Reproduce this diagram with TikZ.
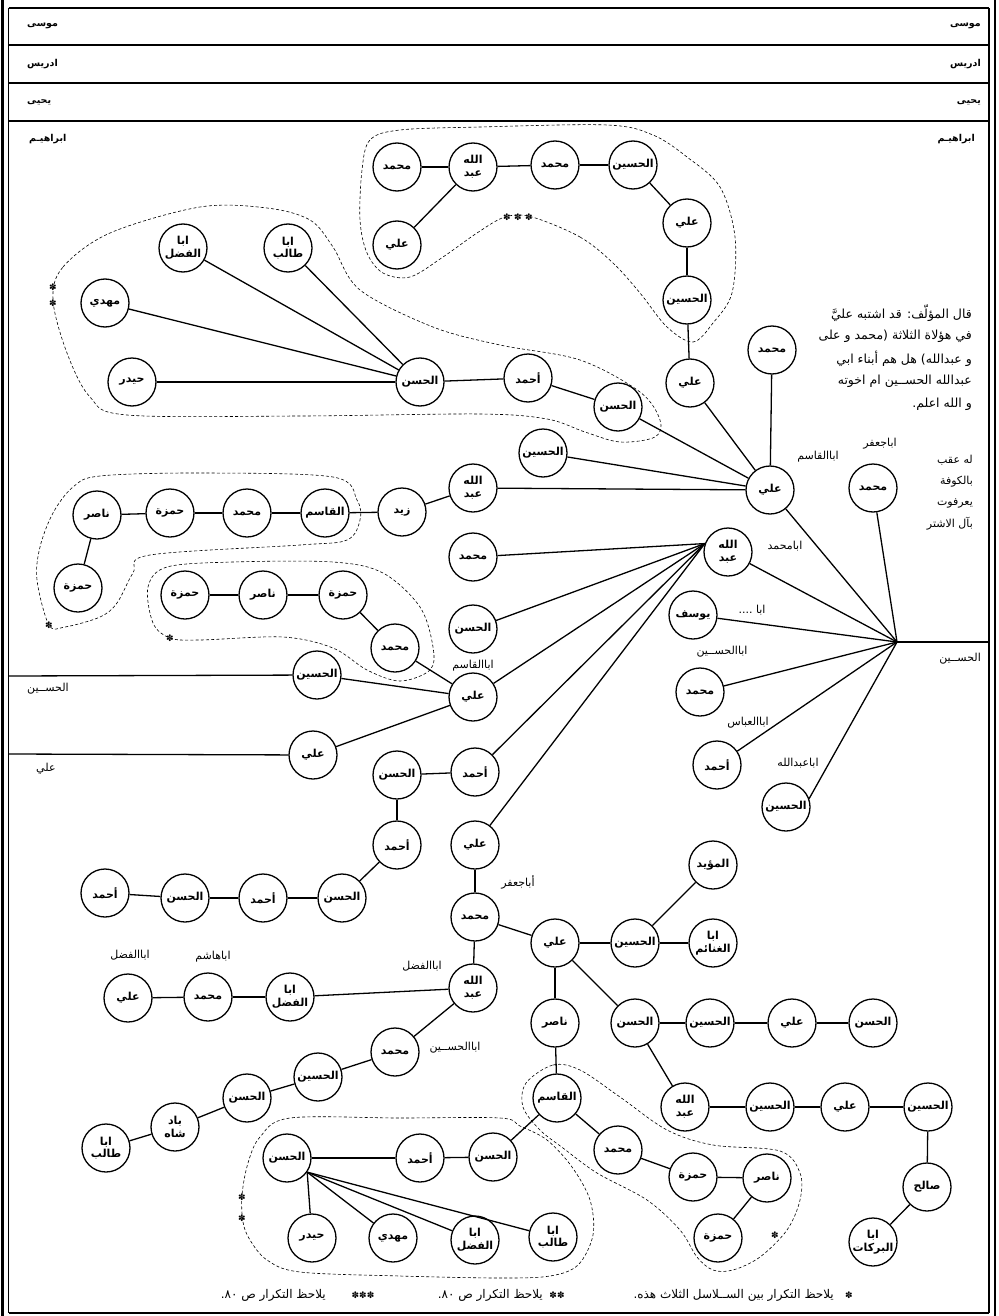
\documentclass[tikz,border=0pt]{standalone}
\usepackage{fontspec}
\newfontfamily\arfont[Script=Arabic]{DejaVu Sans}
\newfontfamily\symfont{DejaVu Sans}
\TeXXeTstate=1
\newcommand{\AR}[1]{\beginR #1\endR}
\tikzset{
  person/.style={circle, draw, line width=1.3pt, minimum size=48pt, inner sep=0pt,
    font=\arfont\bfseries\fontsize{11}{12.5}\selectfont, align=center},
  lbl/.style={font=\arfont\fontsize{11}{12}\selectfont, inner sep=0pt},
  rowl/.style={font=\arfont\bfseries\fontsize{9.5}{11}\selectfont, inner sep=0pt},
  note/.style={font=\arfont\fontsize{12.5}{14}\selectfont, inner sep=0pt, anchor=east},
  fnote/.style={font=\arfont\fontsize{12}{14}\selectfont, inner sep=0pt, anchor=east},
  link/.style={line width=1.3pt},
  dashloop/.style={line width=0.6pt, dash pattern=on 3pt off 2.2pt},
  star/.style={font=\symfont\fontsize{9}{9}\selectfont, inner sep=0pt},
  framel/.style={line width=1.1pt},
}
\begin{document}
\begin{tikzpicture}[x=1pt,y=-1pt]
\useasboundingbox (0,0) rectangle (998,1316);
% frame
\draw[line width=2.2pt] (2.5,0) -- (2.5,1316);
\draw[framel] (8.5,8) -- (8.5,1313);
\draw[framel] (989,8) -- (989,1313);
\draw[line width=1.6pt] (995,0) -- (995,1316);
\foreach \yy in {8,45,83,121,1313} \draw[framel] (8.5,\yy) -- (989,\yy);
% row labels
\node[rowl, anchor=west] (rl1) at (27,26) {\AR{موسى}};
\node[rowl, anchor=east] (rr1) at (981,26) {\AR{موسى}};
\node[rowl, anchor=west] (rl2) at (27,64) {\AR{ادريس}};
\node[rowl, anchor=east] (rr2) at (981,64) {\AR{ادريس}};
\node[rowl, anchor=west] (rl3) at (27,102) {\AR{يحيى}};
\node[rowl, anchor=east] (rr3) at (981,102) {\AR{يحيى}};
\node[rowl, anchor=west] (rl4) at (29,139) {\AR{ابراهيـم}};
\node[rowl, anchor=east] (rr4) at (975,139) {\AR{ابراهيـم}};

% ---------- dashed loops ----------
\draw[dashloop] plot[smooth cycle, tension=0.55] coordinates {(532,217) (580,237) (613,263) (640,293) (667,327) (693,342) (713,323) (732,293) (735,237) (720,187) (687,157) (653,135) (607,125) (480,127) (400,130) (370,140) (362,170) (360,220) (367,253) (383,273) (410,277) (443,257) (477,233) (505,217)};
\draw[dashloop] plot[smooth cycle, tension=0.55] coordinates {(53,300) (63,267) (110,233) (200,207) (267,208) (310,220) (333,247) (360,290) (433,327) (500,345) (580,360) (640,392) (660,420) (655,437) (620,442) (585,432) (547,419) (480,414) (300,416) (127,415) (90,397) (67,353)};
\draw[dashloop] plot[smooth cycle, tension=0.55] coordinates {(49,625) (37,580) (40,547) (53,513) (73,487) (100,476) (200,473) (333,477) (357,500) (360,520) (347,540) (300,545) (150,555) (133,573) (117,603) (100,617) (65,627)};
\draw[dashloop] plot[smooth cycle, tension=0.55] coordinates {(170,638) (153,623) (148,587) (167,567) (233,562) (333,562) (383,573) (420,607) (433,647) (430,670) (400,681) (367,670) (333,648) (283,637) (200,640)};
\draw[dashloop] plot[smooth cycle, tension=0.55] coordinates {(290,1118) (260,1137) (248,1163) (242,1195) (243,1222) (250,1240) (267,1260) (300,1272) (400,1276) (500,1278) (550,1276) (578,1265) (593,1235) (590,1200) (572,1167) (547,1140) (520,1126) (500,1118) (400,1118)};
\draw[dashloop] plot[smooth cycle, tension=0.55] coordinates {(526,1083) (553,1065) (580,1070) (620,1097) (667,1130) (713,1145) (780,1151) (800,1173) (800,1200) (787,1230) (760,1257) (733,1270) (713,1270) (697,1257) (680,1230) (647,1200) (597,1173) (563,1148) (540,1130) (523,1107)};
% stars on loops
\node[star] (s1) at (507,217) {✽};
\node[star] (s2) at (518,217) {✽};
\node[star] (s3) at (529,217) {✽};
\node[star] (s4) at (53,287) {✽};
\node[star] (s5) at (53,303) {✽};
\node[star] (s6) at (49,625) {✽};
\node[star] (s7) at (170,638) {✽};
\node[star] (s8) at (242,1197) {✽};
\node[star] (s9) at (242,1218) {✽};
\node[star] (s10) at (775,1235) {✽};

% ---------- nodes ----------
\node[person] (t1) at (397,167) {\AR{محمد}};
\node[person] (t2) at (473,167) {\AR{الله}\\\AR{عبد}};
\node[person] (t3) at (397,245) {\AR{علي}};
\node[person] (t4) at (555,165) {\AR{محمد}};
\node[person] (t5) at (633,165) {\AR{الحسين}};
\node[person] (t6) at (687,223) {\AR{علي}};
\node[person] (t7) at (687,300) {\AR{الحسين}};
\node[person] (t8) at (690,383) {\AR{علي}};
\node[person] (l1) at (183,248) {\AR{ابا}\\\AR{الفضل}};
\node[person] (l2) at (288,248) {\AR{ابا}\\\AR{طالب}};
\node[person] (l3) at (105,303) {\AR{مهدي}};
\node[person] (l4) at (132,382) {\AR{حيدر}};
\node[person] (l5) at (420,382) {\AR{الحسن}};
\node[person] (l6) at (528,378) {\AR{أحمد}};
\node[person] (l7) at (618,407) {\AR{الحسن}};
\node[person] (r1) at (772,350) {\AR{محمد}};
\node[person] (a1) at (770,490) {\AR{علي}};
\node[person] (a2) at (543,453) {\AR{الحسين}};
\node[person] (a3) at (873,488) {\AR{محمد}};
\node[person] (z1) at (473,488) {\AR{الله}\\\AR{عبد}};
\node[person] (z2) at (402,512) {\AR{زيد}};
\node[person] (z3) at (325,513) {\AR{القاسم}};
\node[person] (z4) at (247,513) {\AR{محمد}};
\node[person] (z5) at (170,513) {\AR{حمزة}};
\node[person] (z6) at (97,515) {\AR{ناصر}};
\node[person] (z7) at (78,588) {\AR{حمزة}};
\node[person] (b1) at (728,552) {\AR{الله}\\\AR{عبد}};
\node[person] (b2) at (693,615) {\AR{يوسف}};
\node[person] (b3) at (700,692) {\AR{محمد}};
\node[person] (b4) at (717,765) {\AR{أحمد}};
\node[person] (b5) at (786,807) {\AR{الحسين}};
\node[person] (c1) at (473,557) {\AR{محمد}};
\node[person] (c2) at (473,629) {\AR{الحسن}};
\node[person] (c3) at (473,697) {\AR{علي}};
\node[person] (c4) at (395,648) {\AR{محمد}};
\node[person] (c5) at (343,595) {\AR{حمزة}};
\node[person] (c6) at (263,595) {\AR{ناصر}};
\node[person] (c7) at (185,595) {\AR{حمزة}};
\node[person] (c8) at (317,675) {\AR{الحسين}};
\node[person] (c9) at (313,755) {\AR{علي}};
\node[person] (d1) at (475,772) {\AR{أحمد}};
\node[person] (d2) at (397,775) {\AR{الحسن}};
\node[person] (d3) at (397,845) {\AR{أحمد}};
\node[person] (d4) at (342,898) {\AR{الحسن}};
\node[person] (d5) at (263,898) {\AR{أحمد}};
\node[person] (d6) at (185,898) {\AR{الحسن}};
\node[person] (d7) at (105,893) {\AR{أحمد}};
\node[person] (e1) at (475,845) {\AR{علي}};
\node[person] (e2) at (475,917) {\AR{محمد}};
\node[person] (e3) at (473,988) {\AR{الله}\\\AR{عبد}};
\node[person] (e4) at (290,997) {\AR{ابا}\\\AR{الفضل}};
\node[person] (e5) at (208,997) {\AR{محمد}};
\node[person] (e6) at (128,998) {\AR{علي}};
\node[person] (f1) at (555,943) {\AR{علي}};
\node[person] (f2) at (635,943) {\AR{الحسين}};
\node[person] (f3) at (713,865) {\AR{المؤيد}};
\node[person] (f4) at (713,943) {\AR{ابا}\\\AR{الغنائم}};
\node[person] (f5) at (555,1023) {\AR{ناصر}};
\node[person] (f6) at (635,1023) {\AR{الحسن}};
\node[person] (f7) at (710,1023) {\AR{الحسين}};
\node[person] (f8) at (792,1023) {\AR{علي}};
\node[person] (f9) at (873,1023) {\AR{الحسن}};
\node[person] (g1) at (685,1107) {\AR{الله}\\\AR{عبد}};
\node[person] (g2) at (770,1107) {\AR{الحسين}};
\node[person] (g3) at (845,1107) {\AR{علي}};
\node[person] (g4) at (928,1107) {\AR{الحسين}};
\node[person] (g5) at (927,1187) {\AR{صالح}};
\node[person] (g6) at (873,1242) {\AR{ابا}\\\AR{البركات}};
\node[person] (h1) at (557,1098) {\AR{القاسم}};
\node[person] (h2) at (493,1157) {\AR{الحسن}};
\node[person] (h3) at (420,1158) {\AR{أحمد}};
\node[person] (h4) at (287,1158) {\AR{الحسن}};
\node[person] (h5) at (312,1238) {\AR{حيدر}};
\node[person] (h6) at (393,1238) {\AR{مهدي}};
\node[person] (h7) at (475,1240) {\AR{ابا}\\\AR{الفضل}};
\node[person] (h8) at (553,1237) {\AR{ابا}\\\AR{طالب}};
\node[person] (h9) at (618,1150) {\AR{محمد}};
\node[person] (h10) at (693,1177) {\AR{حمزة}};
\node[person] (h11) at (767,1178) {\AR{ناصر}};
\node[person] (h12) at (718,1238) {\AR{حمزة}};
\node[person] (k1) at (395,1052) {\AR{محمد}};
\node[person] (k2) at (318,1077) {\AR{الحسين}};
\node[person] (k3) at (247,1098) {\AR{الحسن}};
\node[person] (k4) at (175,1127) {\AR{باد}\\\AR{شاه}};
\node[person] (k5) at (106,1148) {\AR{ابا}\\\AR{طالب}};

\coordinate (hub) at (897,642);
\coordinate (hubR) at (989,642);
\coordinate (lh) at (8.5,676);
\coordinate (la) at (8.5,754);

% ---------- links ----------
\draw[link] (t1) -- (t2); \draw[link] (t2) -- (t4); \draw[link] (t4) -- (t5);
\draw[link] (t5) -- (t6); \draw[link] (t6) -- (t7); \draw[link] (t7) -- (t8);
\draw[link] (t8) -- (a1); \draw[link] (t2) -- (t3);
\draw[link] (l5) -- (l1); \draw[link] (l5) -- (l2); \draw[link] (l5) -- (l3);
\draw[link] (l5) -- (l4); \draw[link] (l5) -- (l6); \draw[link] (l6) -- (l7);
\draw[link] (l7) -- (a1);
\draw[link] (r1) -- (a1); \draw[link] (a2) -- (a1); \draw[link] (z1) -- (a1);
\draw[link] (a1) -- (hub); \draw[link] (a3) -- (hub); \draw[link] (b1) -- (hub);
\draw[link] (b2) -- (hub); \draw[link] (b3) -- (hub); \draw[link] (b4) -- (hub);
\draw[link] (b5.20) -- (hub); \draw[link] (hub) -- (hubR);
\draw[link] (z1) -- (z2); \draw[link] (z2) -- (z3); \draw[link] (z3) -- (z4);
\draw[link] (z4) -- (z5); \draw[link] (z5) -- (z6); \draw[link] (z6) -- (z7);
\draw[link] (b1.160) -- (c1); \draw[link] (b1.160) -- (c2); \draw[link] (b1.160) -- (c3);
\draw[link] (b1.160) -- (d1); \draw[link] (b1.160) -- (e1);
\draw[link] (c3) -- (c4); \draw[link] (c4) -- (c5); \draw[link] (c5) -- (c6);
\draw[link] (c6) -- (c7); \draw[link] (c3) -- (c8); \draw[link] (c3) -- (c9);
\draw[link] (lh) -- (c8); \draw[link] (la) -- (c9);
\draw[link] (d1) -- (d2); \draw[link] (d2) -- (d3); \draw[link] (d3) -- (d4);
\draw[link] (d4) -- (d5); \draw[link] (d5) -- (d6); \draw[link] (d6) -- (d7);
\draw[link] (e1) -- (e2); \draw[link] (e2) -- (e3); \draw[link] (e3) -- (e4);
\draw[link] (e4) -- (e5); \draw[link] (e5) -- (e6);
\draw[link] (e2) -- (f1); \draw[link] (f1) -- (f2); \draw[link] (f2) -- (f3);
\draw[link] (f2) -- (f4); \draw[link] (f1) -- (f5); \draw[link] (f1) -- (f6);
\draw[link] (f6) -- (f7); \draw[link] (f7) -- (f8); \draw[link] (f8) -- (f9);
\draw[link] (f5) -- (h1); \draw[link] (f6) -- (g1); \draw[link] (g1) -- (g2);
\draw[link] (g2) -- (g3); \draw[link] (g3) -- (g4); \draw[link] (g4) -- (g5);
\draw[link] (g5) -- (g6);
\draw[link] (h1) -- (h2); \draw[link] (h2) -- (h3); \draw[link] (h3) -- (h4);
\draw[link] (h4.-35) -- (h5); \draw[link] (h4.-35) -- (h6);
\draw[link] (h4.-35) -- (h7); \draw[link] (h4.-35) -- (h8);
\draw[link] (h1) -- (h9); \draw[link] (h9) -- (h10); \draw[link] (h10) -- (h11);
\draw[link] (h11) -- (h12);
\draw[link] (e3) -- (k1); \draw[link] (k1) -- (k2); \draw[link] (k2) -- (k3);
\draw[link] (k3) -- (k4); \draw[link] (k4) -- (k5);

% ---------- labels ----------
\node[lbl] (q1) at (818,457) {\AR{اباالقاسم}};
\node[lbl] (q2) at (880,444) {\AR{اباجعفر}};
\node[lbl] (q3) at (785,546) {\AR{ابامحمد}};
\node[lbl] (q4) at (752,610) {\AR{ابا ....}};
\node[lbl] (q5) at (722,652) {\AR{اباالحســين}};
\node[lbl] (q6) at (748,723) {\AR{اباالعباس}};
\node[lbl] (q7) at (798,763) {\AR{اباعبدالله}};
\node[lbl, anchor=east] (q8) at (981,659) {\AR{الحســين}};
\node[lbl] (q9) at (473,666) {\AR{اباالقاسم}};
\node[lbl, anchor=west] (q10) at (27,689) {\AR{الحســين}};
\node[lbl, anchor=west] (q11) at (36,769) {\AR{علي}};
\node[lbl] (q12) at (518,882) {\AR{أباجعفر}};
\node[lbl] (q13) at (422,966) {\AR{اباالفضل}};
\node[lbl] (q14) at (213,957) {\AR{اباهاشم}};
\node[lbl] (q15) at (130,955) {\AR{اباالفضل}};
\node[lbl] (q16) at (455,1048) {\AR{اباالحســين}};
% note block
\node[note] (n1) at (972,313) {\AR{قال المؤلّف: قد اشتبه عليَّ}};
\node[note] (n2) at (972,336) {\AR{في هؤلاة الثلاثة (محمد و على}};
\node[note] (n3) at (972,359) {\AR{و عبدالله) هل هم أبناء ابي}};
\node[note] (n4) at (972,381) {\AR{عبدالله الحســين ام اخوته}};
\node[note] (n5) at (972,404) {\AR{و الله اعلم.}};
\node[lbl, anchor=east] (m1) at (973,460) {\AR{له عقب}};
\node[lbl, anchor=east] (m2) at (973,482) {\AR{بالكوفة}};
\node[lbl, anchor=east] (m3) at (973,503) {\AR{يعرفوت}};
\node[lbl, anchor=east] (m4) at (973,524) {\AR{بآل الاشتر}};
% footnotes
\node[fnote] (p1) at (834,1295) {\AR{يلاحظ التكرار بين الســلاسل الثلاث هذه.}};
\node[star] (p1s) at (849,1295) {✽};
\node[fnote] (p2) at (543,1295) {\AR{يلاحظ التكرار ص ٨٠.}};
\node[star] (p2s) at (557,1295) {✽✽};
\node[fnote] (p3) at (326,1295) {\AR{يلاحظ التكرار ص ٨٠.}};
\node[star] (p3s) at (363,1295) {✽✽✽};
\end{tikzpicture}
\end{document}
